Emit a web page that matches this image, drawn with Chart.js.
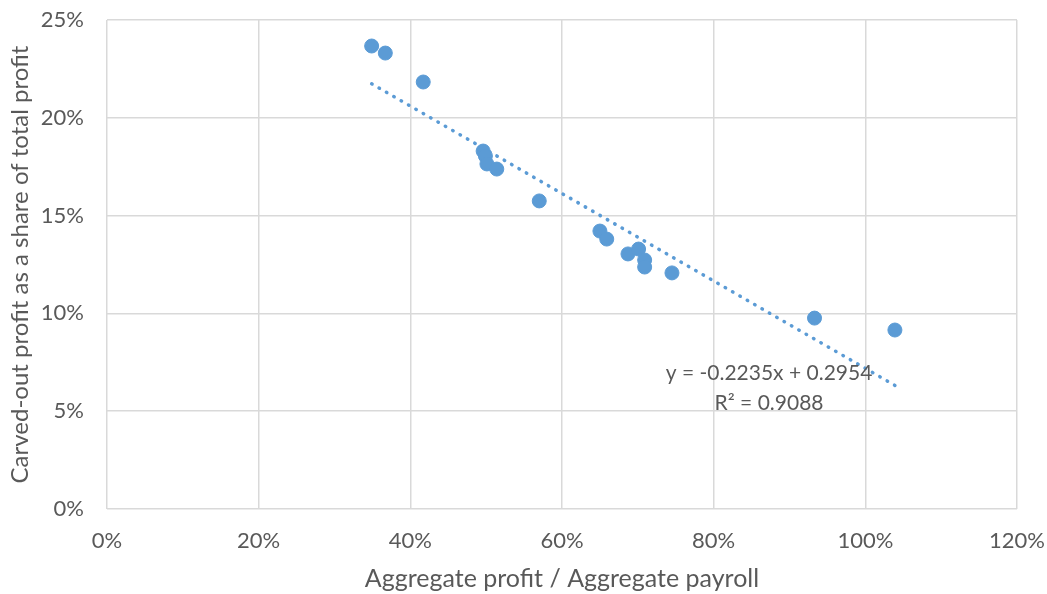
<!DOCTYPE html>
<html>
<head>
<meta charset="utf-8">
<script src="https://cdn.jsdelivr.net/npm/chart.js@4/dist/chart.umd.min.js"></script>
<style>
  html, body { margin: 0; padding: 0; background: #fff; }
  #wrap { width: 1047px; height: 594px; position: relative; }
</style>
</head>
<body>
<div id="wrap"><canvas id="chart"></canvas></div>
<script>
// aggregate profit / aggregate payroll (fractions)
const payrollRatio = [0.349, 0.367, 0.417, 0.496, 0.499, 0.501, 0.514, 0.570,
  0.650, 0.659, 0.687, 0.701, 0.709, 0.709, 0.745, 0.933, 1.039]
// carved-out profit as a share of total profit
const carvedShare = [0.2367, 0.2331, 0.2183, 0.1830, 0.1805, 0.1764, 0.1738, 0.1575,
  0.1421, 0.1380, 0.1304, 0.1329, 0.1273, 0.1237, 0.1207, 0.0976, 0.0915]
const trendSlope = -0.2235
const trendIntercept = 0.2954
const trendLabel = ['y = -0.2235x + 0.2954', 'R\u00b2 = 0.9088']
const xTicks = [0, 0.2, 0.4, 0.6, 0.8, 1.0, 1.2]
const yTicks = [0, 0.05, 0.10, 0.15, 0.20, 0.25]

const blue = '#5b9bd5'
const grey = '#595959'
const fontFamily = 'Lato, "Open Sans", sans-serif'

const points = payrollRatio.map((x, i) => ({ x: x, y: carvedShare[i] }))
const xMin = Math.min(...payrollRatio)
const xMax = Math.max(...payrollRatio)
const trend = [xMin, xMax].map(x => ({ x: x, y: trendIntercept + trendSlope * x }))

const trendText = {
  id: 'trendText',
  afterDatasetsDraw(chart) {
    const ctx = chart.ctx
    const xs = chart.scales.x
    const ys = chart.scales.y
    ctx.save()
    ctx.fillStyle = grey
    ctx.font = '21px ' + fontFamily
    ctx.textAlign = 'center'
    ctx.textBaseline = 'middle'
    ctx.fillText(trendLabel[0], xs.getPixelForValue(0.873), ys.getPixelForValue(0.0695))
    ctx.fillText(trendLabel[1], xs.getPixelForValue(0.873), ys.getPixelForValue(0.054))
    ctx.restore()
  }
}

const pct = v => Math.round(v * 100) + '%'

// keep the plot box fixed, labels may overhang
function noPad(scale) {
  scale.paddingTop = 0
  scale.paddingBottom = 0
  scale.paddingLeft = 0
  scale.paddingRight = 0
}

const ctx = document.getElementById('chart').getContext('2d')
const chart = new Chart(ctx, {
  type: 'scatter',
  data: {
    datasets: [{
      data: points,
      backgroundColor: blue,
      borderColor: blue,
      borderWidth: 1,
      pointRadius: 7,
      order: 1,
    }, {
      type: 'line',
      data: trend,
      borderColor: blue,
      borderWidth: 3.5,
      borderDash: [0.5, 8],
      borderCapStyle: 'round',
      pointRadius: 0,
      fill: false,
      order: 2,
    }],
  },
  options: {
    responsive: true,
    maintainAspectRatio: false,
    animation: false,
    layout: { padding: { top: 20, right: 30, left: 0, bottom: 0 } },
    plugins: {
      legend: { display: false },
      tooltip: { enabled: false },
    },
    scales: {
      x: {
        type: 'linear',
        min: 0,
        max: 1.2,
        afterBuildTicks: scale => { scale.ticks = xTicks.map(v => ({ value: v })) },
        afterFit: scale => { scale.height = 85; noPad(scale) },
        grid: { color: '#d9d9d9', lineWidth: 1.5, drawTicks: false },
        border: { display: false },
        ticks: {
          color: grey,
          padding: 19,
          font: { family: fontFamily, size: 22 },
          callback: v => pct(v),
        },
        title: {
          display: true,
          text: 'Aggregate profit / Aggregate payroll',
          color: grey,
          font: { family: fontFamily, size: 25 },
          padding: { top: 0, bottom: 0 },
        },
      },
      y: {
        min: 0,
        max: 0.25,
        afterBuildTicks: scale => { scale.ticks = yTicks.map(v => ({ value: v })) },
        afterFit: scale => { scale.width = 107; noPad(scale) },
        grid: { color: '#d9d9d9', lineWidth: 1.5, drawTicks: false },
        border: { display: false },
        ticks: {
          color: grey,
          padding: 23,
          font: { family: fontFamily, size: 22 },
          callback: v => pct(v),
        },
        title: {
          display: true,
          text: 'Carved-out profit as a share of total profit',
          color: grey,
          font: { family: fontFamily, size: 24 },
          padding: { top: 6, bottom: 0 },
        },
      },
    },
  },
  plugins: [trendText],
})
</script>
</body>
</html>
